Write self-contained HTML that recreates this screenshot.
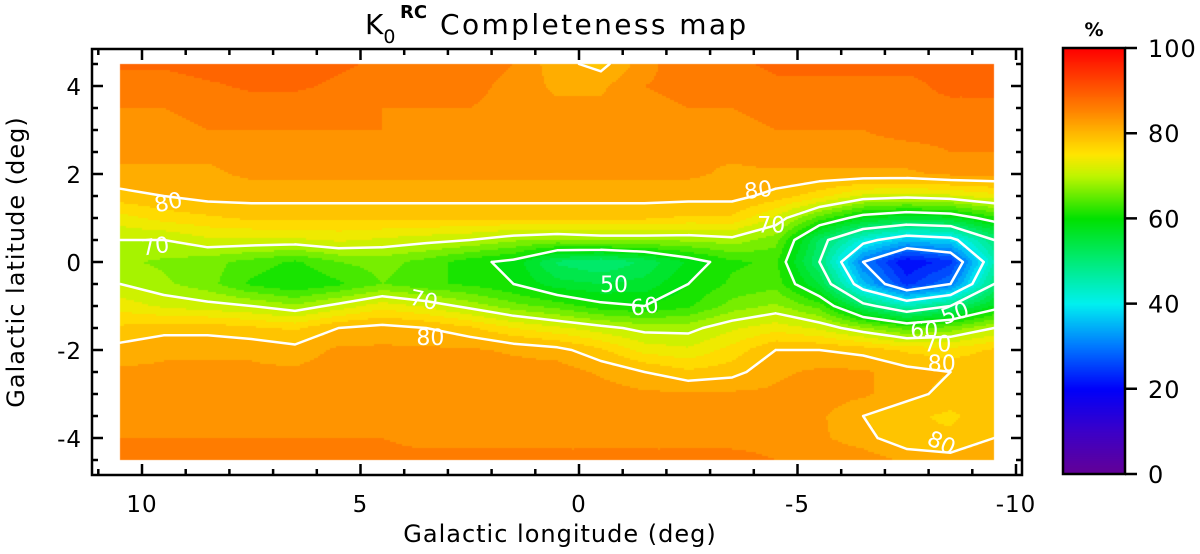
<!DOCTYPE html>
<html><head><meta charset="utf-8"><style>
body{margin:0;background:#fff;width:1200px;height:554px;overflow:hidden;font-family:"DejaVu Sans","Liberation Sans",sans-serif}
#wrap{position:relative;width:1200px;height:554px}
canvas{position:absolute;left:0;top:0}
svg{position:absolute;left:0;top:0;font-family:"DejaVu Sans","Liberation Sans",sans-serif}
</style></head><body>
<div id="wrap">
<canvas id="cv" width="1200" height="554"></canvas>
<svg id="sv" width="1200" height="554"></svg>
</div>
<script>
const lons=[10.5,9.5,8.5,7.5,6.5,5.5,4.5,3.5,2.5,1.5,0.5,-0.5,-1.5,-2.5,-3.5,-4.5,-5.5,-6.5,-7.5,-8.5,-9.5];
const lats=[4.5,4,3.5,3,2.5,2,1.5,1,0.5,0,-0.5,-1,-1.5,-2,-2.5,-3,-3.5,-4,-4.5];
const grid=[
[88,88,89,89,89,88,87,87,87,85,81,79,84,87,87,88,88,88,88,88,89],
[86,86,87,88,88,87,86,86,86,84,82,82,85,86,86,87,87,87,87,88,88],
[85,85,86,86,86,86,85,85,85,84,83,83,84,85,85,86,86,86,87,87,87],
[84,84,85,85,85,85,85,84,84,84,83,84,84,84,84,85,85,85,86,86,86],
[83,83,83,84,84,84,84,83,83,83,83,83,83,83,83,84,84,84,84,85,85],
[82,82,82,83,83,83,83,83,83,83,83,83,83,83,82,82,82,82,82,83,83],
[79,80,81,81,81,81,81,81,81,81,81,81,81,81,81,79,76,72,71,72,74],
[74,76,77,78,78,78,78,78,78,78,78,78,78,77,77,72,64,58,56,57,62],
[70,70,72,72,72,73,72,71,70,68,67,68,68,68,69,66,52,42,36,38,50],
[68,67,66,64,62,65,66,64,61,59,52,50,53,58,62,63,50,30,20,24,45],
[70,68,66,62,60,62,65,63,62,60,56,55,56,60,63,64,55,36,24,30,50],
[74,72,71,70,68,71,74,72,69,66,64,61,60,62,66,68,64,52,45,50,58],
[78,79,79,78,77,80,81,80,78,75,73,71,69,69,72,74,72,68,64,66,70],
[81,82,82,82,81,83,83,83,83,82,81,78,74,73,76,80,80,79,77,76,78],
[83,83,83,83,83,84,84,84,84,84,84,82,80,78,79,82,83,83,81,80,79],
[84,84,84,84,84,84,84,84,84,84,84,84,83,83,83,83,84,83,81,79,78],
[84,84,84,84,84,84,84,84,84,84,84,84,84,84,84,84,83,80,78,77,79],
[85,85,85,85,85,85,85,84,84,84,84,84,84,84,84,84,83,81,78,78,80],
[86,86,86,86,86,86,86,86,86,86,86,86,86,86,86,85,85,84,82,81,82]];
const levels=[30,40,50,60,70,80];
const xTicks=[10,5,0,-5,-10];
const yTicks=[4,2,0,-2,-4];
const cbTicks=[0,20,40,60,80,100];
const labels=[[9.4,1.37,"80",-12],[9.7,0.37,"70",-8],[3.55,-0.85,"70",12],[3.4,-1.7,"80",0],[-0.8,-0.5,"50",0],[-1.5,-1.0,"60",-8],[-4.1,1.65,"80",-8],[-4.4,0.85,"70",0],[-8.6,-1.15,"50",-20],[-7.9,-1.55,"60",0],[-8.2,-1.85,"70",0],[-8.3,-2.3,"80",0],[-8.3,-4.1,"80",25]];

const X=l=>142+(10-l)*43.7, Y=b=>262-b*44;
const stops=[[0,[100,0,150]],[10,[60,0,200]],[20,[0,0,250]],[30,[0,120,255]],[40,[0,240,240]],[50,[0,235,120]],[60,[0,225,0]],[70,[190,245,0]],[75,[255,230,0]],[80,[255,185,0]],[85,[255,135,0]],[90,[255,90,0]],[100,[255,0,0]]];
function col(v){v=Math.max(0,Math.min(100,v));for(let i=1;i<stops.length;i++){if(v<=stops[i][0]){const a=stops[i-1],b=stops[i],t=(v-a[0])/(b[0]-a[0]);return a[1].map((c,k)=>Math.round(c+(b[1][k]-c)*t));}}return stops[stops.length-1][1];}
function val(l,b){
  let fi=(lons[0]-l)/(lons[0]-lons[1]), fj=(lats[0]-b)/(lats[0]-lats[1]);
  fi=Math.max(0,Math.min(lons.length-1.001,fi));fj=Math.max(0,Math.min(lats.length-1.001,fj));
  const i=Math.floor(fi),j=Math.floor(fj),u=fi-i,w=fj-j;
  return grid[j][i]*(1-u)*(1-w)+grid[j][i+1]*u*(1-w)+grid[j+1][i]*(1-u)*w+grid[j+1][i+1]*u*w;
}
const cv=document.getElementById('cv'),ctx=cv.getContext('2d');
const x0=Math.round(X(lons[0])),x1=Math.round(X(lons[lons.length-1])),y0=Math.round(Y(lats[0])),y1=Math.round(Y(lats[lats.length-1]));
const inv=(px)=>10-(px-142)/43.7, invb=(py)=>(262-py)/44;
for(let py=y0;py<y1;py+=2)for(let px=x0;px<x1;px+=2){
  let v=val(inv(px+1),invb(py+1));v=Math.floor(v/2.5)*2.5+1.25;
  const c=col(v);ctx.fillStyle=`rgb(${c[0]},${c[1]},${c[2]})`;ctx.fillRect(px,py,2,2);
}
const CB={t:48,b:474};
for(let py=CB.t;py<CB.b;py++){const c=col((CB.b-py)/(CB.b-CB.t)*100);ctx.fillStyle=`rgb(${c[0]},${c[1]},${c[2]})`;ctx.fillRect(1063,py,62,1);}
const NS='http://www.w3.org/2000/svg',sv=document.getElementById('sv');
function mk(t,a,p){const e=document.createElementNS(NS,t);for(const k in a)e.setAttribute(k,a[k]);(p||sv).appendChild(e);return e;}
let gC=mk('g',{});


levels.forEach(L=>{
  let d='';
  for(let j=0;j<lats.length-1;j++)for(let i=0;i<lons.length-1;i++){
    const c=[[lons[i],lats[j],grid[j][i]],[lons[i+1],lats[j],grid[j][i+1]],[lons[i+1],lats[j+1],grid[j+1][i+1]],[lons[i],lats[j+1],grid[j+1][i]]];
    const pts=[];
    for(let k=0;k<4;k++){const a=c[k],b=c[(k+1)%4];if((a[2]<L)!==(b[2]<L)){const t=(L-a[2])/(b[2]-a[2]);pts.push([X(a[0]+(b[0]-a[0])*t),Y(a[1]+(b[1]-a[1])*t)]);}}
    for(let k=0;k+1<pts.length;k+=2)d+=`M${pts[k][0].toFixed(1)},${pts[k][1].toFixed(1)}L${pts[k+1][0].toFixed(1)},${pts[k+1][1].toFixed(1)}`;
  }
  const p=mk('path',{d:d,stroke:'#fff','stroke-width':2.5,fill:'none','stroke-linecap':'round'},gC);
  
  
});
labels.forEach(a=>{const x=X(a[0]),y=Y(a[1]);const t=mk('text',{x:x,y:y+8,fill:'#fff','font-size':22,'text-anchor':'middle',transform:`rotate(${a[3]} ${x} ${y})`});t.textContent=a[2];
  
  });
const F={l:92,r:1022,t:49,b:475};
const fr=mk('rect',{x:F.l,y:F.t,width:F.r-F.l,height:F.b-F.t,fill:'none',stroke:'#000','stroke-width':2.5});


let tk='';
for(let l=-10;l<=11;l++){const x=X(l);if(x<F.l||x>F.r)continue;const len=l%5===0?11:6;tk+=`M${x},${F.b}v${-len}M${x},${F.t}v${len}`;}
for(let b=-4.5;b<=4.5;b+=0.5){const y=Y(b);const len=b%2===0?11:6;tk+=`M${F.l},${y}h${len}M${F.r},${y}h${-len}`;}
const tp=mk('path',{d:tk,stroke:'#000','stroke-width':2.5});


xTicks.forEach(v=>{const t=mk('text',{x:X(v),y:512,'font-size':23,'text-anchor':'middle','letter-spacing':1});t.textContent=v;
  
  });
yTicks.forEach(v=>{const t=mk('text',{x:82,y:Y(v)+9,'font-size':23,'text-anchor':'end','letter-spacing':1});t.textContent=v;
  
  });
let t=mk('text',{x:560,y:542,'font-size':24,'text-anchor':'middle','letter-spacing':'1'});t.textContent='Galactic longitude (deg)';


t=mk('text',{x:24,y:262,'font-size':24,'text-anchor':'middle',transform:'rotate(-90 24 262)','letter-spacing':'1'});t.textContent='Galactic latitude (deg)';


t=mk('text',{x:365,y:34,'font-size':28});
t.innerHTML='K<tspan font-size="19" dy="9">0</tspan><tspan x="400" font-size="18" font-weight="bold" dy="-25">RC</tspan><tspan x="440" dy="16" letter-spacing="2.4">Completeness map</tspan>';


const cb=mk('rect',{x:1063,y:CB.t,width:62,height:CB.b-CB.t,fill:'none',stroke:'#000','stroke-width':2.5});


let ct='';
cbTicks.forEach(v=>{const y=CB.b-v/100*(CB.b-CB.t);ct+=`M1125,${y}h12`;
  const tt=mk('text',{x:1148,y:y+9,'font-size':24,'letter-spacing':1});tt.textContent=v;
  
  });
mk('path',{d:ct,stroke:'#000','stroke-width':2.5});
t=mk('text',{x:1094,y:36,'font-size':19,'text-anchor':'middle','font-weight':'bold'});t.textContent='%';


</script>
</body></html>
